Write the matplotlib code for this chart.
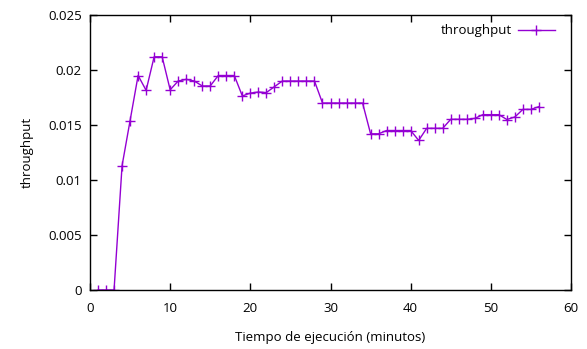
import matplotlib
matplotlib.use("Agg")
import matplotlib.pyplot as plt

minutes = list(range(1, 57))
throughput = [
    0.0, 0.0, 0.0, 0.0113, 0.0154, 0.0195, 0.01815, 0.0212, 0.0212, 0.0182,
    0.0190, 0.01915, 0.0190, 0.01855, 0.01855, 0.0195, 0.0195, 0.0195, 0.01764, 0.0179,
    0.0180, 0.01795, 0.01848, 0.0190, 0.0190, 0.0190, 0.0190, 0.0190, 0.0170, 0.0170,
    0.0170, 0.0170, 0.0170, 0.0170, 0.0142, 0.0142, 0.0145, 0.0145, 0.0145, 0.0145,
    0.0136, 0.0147, 0.0147, 0.0147, 0.01552, 0.01552, 0.01552, 0.0156, 0.01594, 0.01594,
    0.01594, 0.0155, 0.01573, 0.01642, 0.01642, 0.01667,
]
xticks = [0, 10, 20, 30, 40, 50, 60]
yticks = [0, 0.005, 0.01, 0.015, 0.02, 0.025]
yticklabels = ["0", "0.005", "0.01", "0.015", "0.02", "0.025"]

plt.rcParams['font.family'] = ['Open Sans', 'DejaVu Sans']
fig = plt.figure(figsize=(5.87, 3.49), dpi=100)
ax = fig.add_axes([90/587, 1-290/349, (571-90)/587, (290-15)/349])
color = '#9400D3'
ax.plot(minutes, throughput, color=color, lw=1.0, marker='+', ms=7, mew=1.0,
        label='throughput')
ax.set_xlim(0, 60)
ax.set_ylim(0, 0.025)
ax.set_xticks(xticks)
ax.set_xticklabels([str(t) for t in xticks])
ax.set_yticks(yticks)
ax.set_yticklabels(yticklabels)
ax.tick_params(direction='in', top=True, right=True, length=5, width=1,
               labelsize=9.5, colors='black')
ax.tick_params(axis='x', pad=9)
ax.tick_params(axis='y', pad=6)
for s in ax.spines.values():
    s.set_linewidth(1.0)
ax.set_xlabel('Tiempo de ejecución (minutos)', fontsize=9.5, labelpad=11)
ax.set_ylabel('throughput', fontsize=9.5, labelpad=10)
leg = ax.legend(loc='upper right', frameon=False, fontsize=9.5, markerfirst=False,
                handlelength=2.8, handletextpad=0.45, borderaxespad=0.3,
                bbox_to_anchor=(0.985, 1.0))
fig.savefig('out.png', dpi=100)
